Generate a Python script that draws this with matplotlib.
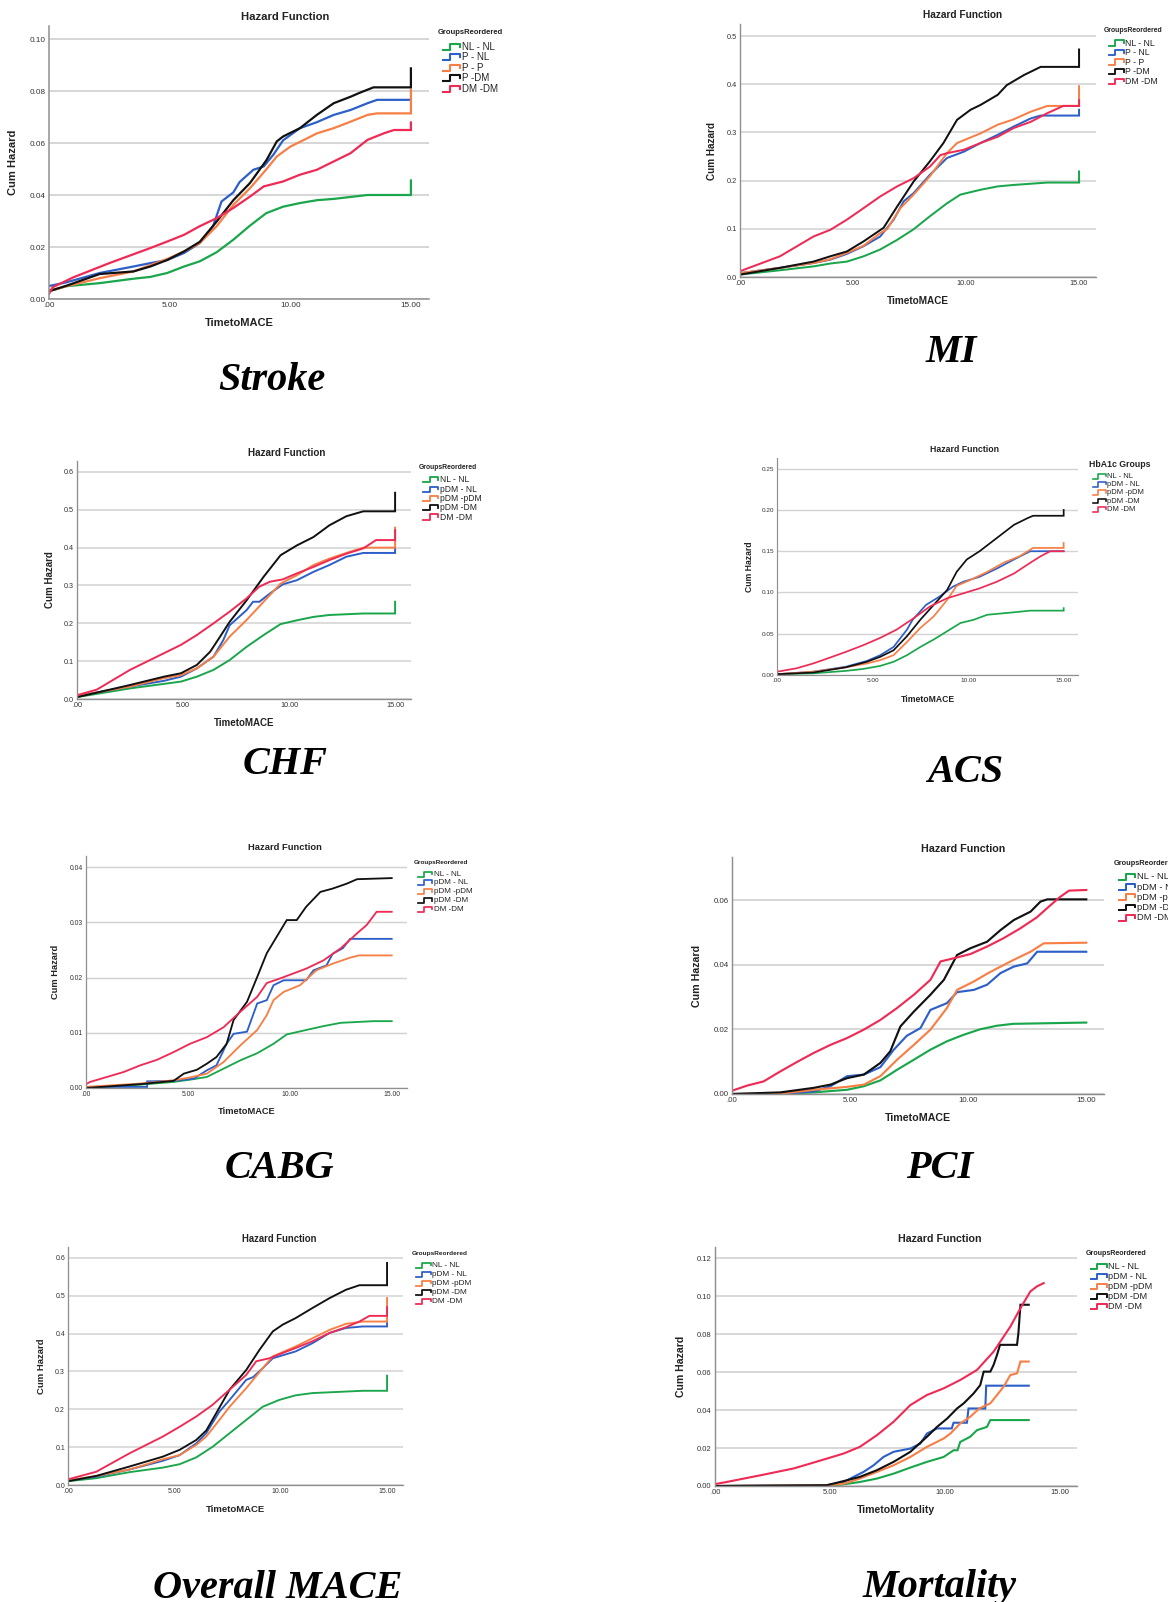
import matplotlib
matplotlib.use("Agg")
import matplotlib.pyplot as plt
from matplotlib.lines import Line2D

W, H = 1168, 1602

# legend labels / colours (SPSS order)
groups_p = ["NL - NL", "P - NL", "P - P", "P -DM", "DM -DM"]
groups_pdm = ["NL - NL", "pDM - NL", "pDM -pDM", "pDM -DM", "DM -DM"]
group_colors = ["#1aa64b", "#2d5fc8", "#f77f45", "#111111", "#ee2a55"]

x_ticks = [0, 5, 10, 15]
x_tick_labels = [".00", "5.00", "10.00", "15.00"]

# ---- Stroke ----
stroke_nl_t = [0, 0.7, 2.1, 3.5, 4.2, 4.9, 5.6, 6.25, 6.95, 7.64, 8.3, 9.0, 9.7, 10.4, 11.1, 11.8, 13.2, 15.0, 15.0]
stroke_nl_y = [0.003, 0.0049, 0.0061, 0.0078, 0.0085, 0.010, 0.0125, 0.0145, 0.018, 0.0228, 0.028, 0.033, 0.0355, 0.0369, 0.0380, 0.0385, 0.040, 0.040, 0.0456]
stroke_pnl_t = [0, 0.72, 2.1, 3.5, 4.2, 4.9, 5.6, 6.25, 6.8, 7.15, 7.64, 7.9, 8.47, 8.9, 9.3, 9.7, 10.4, 11.1, 11.8, 12.5, 13.2, 13.6, 15.0]
stroke_pnl_y = [0.005, 0.0064, 0.010, 0.0125, 0.0138, 0.015, 0.0177, 0.0215, 0.028, 0.0375, 0.041, 0.045, 0.0497, 0.051, 0.0555, 0.061, 0.0657, 0.068, 0.0708, 0.0727, 0.0753, 0.0766, 0.0766]
stroke_pp_t = [0, 0.72, 2.1, 3.5, 4.2, 4.9, 5.6, 6.25, 6.95, 7.64, 8.33, 9.02, 9.44, 10.0, 10.7, 11.1, 11.8, 12.5, 13.2, 13.6, 15.0, 15.0]
stroke_pp_y = [0.003, 0.0049, 0.008, 0.0106, 0.013, 0.0154, 0.0183, 0.0215, 0.028, 0.0362, 0.0426, 0.050, 0.0548, 0.0586, 0.0618, 0.0637, 0.0657, 0.0682, 0.0708, 0.0714, 0.0714, 0.0804]
stroke_pdm_t = [0, 0.72, 2.1, 3.5, 4.2, 4.9, 5.6, 6.25, 6.95, 7.64, 8.33, 9.02, 9.44, 9.7, 10.4, 11.1, 11.8, 12.5, 12.9, 13.45, 15.0, 15.0]
stroke_pdm_y = [0.003, 0.0051, 0.0096, 0.0106, 0.0125, 0.015, 0.0183, 0.022, 0.0298, 0.038, 0.0446, 0.0535, 0.0606, 0.0625, 0.0657, 0.0708, 0.0753, 0.0778, 0.0794, 0.0814, 0.0814, 0.0887]
stroke_dm_t = [0, 0.15, 1.0, 2.5, 4.2, 4.9, 5.6, 6.25, 6.95, 7.64, 8.33, 8.9, 9.7, 10.4, 11.1, 11.8, 12.5, 13.2, 13.9, 14.3, 15.0, 15.0]
stroke_dm_y = [0.002, 0.0045, 0.0083, 0.0138, 0.0196, 0.0221, 0.0247, 0.028, 0.0311, 0.035, 0.0394, 0.0433, 0.0452, 0.0478, 0.0497, 0.0529, 0.0561, 0.0612, 0.0638, 0.065, 0.065, 0.0679]

# ---- MI ----
mi_nl_t = [0, 1.77, 3.25, 4.0, 4.73, 5.47, 6.2, 6.95, 7.68, 8.4, 9.16, 9.75, 10.64, 11.4, 12.1, 13.6, 15.0, 15.0]
mi_nl_y = [0.005, 0.014, 0.022, 0.028, 0.032, 0.043, 0.057, 0.077, 0.099, 0.126, 0.153, 0.171, 0.181, 0.188, 0.191, 0.196, 0.196, 0.219]
mi_pnl_t = [0, 1.77, 3.25, 4.0, 4.73, 5.47, 6.2, 6.8, 7.24, 7.68, 8.4, 9.16, 9.9, 10.64, 11.4, 12.1, 12.86, 13.3, 15.0, 15.0]
mi_pnl_y = [0.008, 0.019, 0.029, 0.036, 0.048, 0.064, 0.084, 0.119, 0.157, 0.174, 0.212, 0.247, 0.26, 0.278, 0.295, 0.312, 0.329, 0.335, 0.335, 0.347]
mi_pp_t = [0, 1.77, 3.25, 4.0, 4.73, 5.47, 6.2, 6.5, 7.1, 7.68, 8.4, 9.16, 9.6, 10.64, 11.4, 12.1, 12.86, 13.6, 15.0, 15.0]
mi_pp_y = [0.008, 0.019, 0.029, 0.037, 0.05, 0.065, 0.091, 0.099, 0.143, 0.171, 0.209, 0.257, 0.278, 0.298, 0.316, 0.327, 0.343, 0.355, 0.355, 0.396]
mi_pdm_t = [0, 1.77, 3.25, 4.0, 4.73, 5.47, 6.35, 6.95, 7.68, 8.4, 9.0, 9.6, 10.2, 10.64, 11.4, 11.8, 12.56, 13.3, 15.0, 15.0]
mi_pdm_y = [0.005, 0.019, 0.032, 0.043, 0.053, 0.074, 0.102, 0.146, 0.198, 0.24, 0.278, 0.326, 0.347, 0.357, 0.378, 0.398, 0.419, 0.436, 0.436, 0.472]
mi_dm_t = [0, 1.77, 3.25, 4.0, 4.73, 5.47, 6.2, 6.95, 7.68, 8.4, 8.87, 9.16, 9.9, 10.64, 11.4, 12.1, 12.86, 13.6, 14.3, 15.0, 15.0]
mi_dm_y = [0.012, 0.043, 0.084, 0.098, 0.119, 0.143, 0.167, 0.188, 0.205, 0.229, 0.253, 0.257, 0.264, 0.278, 0.291, 0.309, 0.322, 0.34, 0.355, 0.355, 0.367]

# ---- CHF ----
chf_nl_t = [0, 2.5, 4.1, 4.9, 5.65, 6.44, 7.2, 8.0, 8.8, 9.6, 10.37, 11.15, 11.9, 13.5, 15.0, 15.0]
chf_nl_y = [0.005, 0.028, 0.04, 0.046, 0.059, 0.077, 0.103, 0.138, 0.169, 0.198, 0.208, 0.217, 0.222, 0.226, 0.226, 0.257]
chf_pnl_t = [0, 2.5, 4.1, 4.9, 5.65, 6.44, 6.9, 7.2, 8.0, 8.3, 8.6, 9.1, 9.7, 10.37, 11.15, 11.9, 12.7, 13.5, 15.0, 15.0]
chf_pnl_y = [0.008, 0.033, 0.048, 0.059, 0.081, 0.112, 0.156, 0.195, 0.235, 0.257, 0.257, 0.279, 0.303, 0.314, 0.336, 0.354, 0.376, 0.386, 0.386, 0.398]
chf_pp_t = [0, 2.5, 4.1, 4.9, 5.65, 6.44, 7.2, 8.0, 8.8, 9.6, 10.37, 11.15, 11.9, 12.7, 13.5, 15.0, 15.0]
chf_pp_y = [0.008, 0.033, 0.055, 0.063, 0.081, 0.112, 0.165, 0.209, 0.257, 0.305, 0.327, 0.354, 0.371, 0.386, 0.40, 0.40, 0.453]
chf_pdm_t = [0, 2.5, 4.1, 4.9, 5.65, 6.28, 6.75, 7.2, 8.0, 8.8, 9.6, 10.37, 11.15, 11.9, 12.7, 13.5, 15.0, 15.0]
chf_pdm_y = [0.005, 0.037, 0.059, 0.068, 0.09, 0.125, 0.165, 0.204, 0.261, 0.323, 0.38, 0.406, 0.428, 0.459, 0.483, 0.496, 0.496, 0.545]
chf_dm_t = [0, 0.94, 2.5, 4.1, 4.9, 5.65, 6.44, 7.2, 8.0, 8.6, 9.1, 9.7, 10.37, 11.15, 11.9, 12.7, 13.5, 14.1, 15.0, 15.0]
chf_dm_y = [0.01, 0.025, 0.077, 0.121, 0.143, 0.169, 0.2, 0.231, 0.266, 0.297, 0.31, 0.316, 0.332, 0.349, 0.367, 0.384, 0.398, 0.42, 0.42, 0.446]

# ---- ACS ----
acs_nl_t = [0, 1.9, 3.6, 4.5, 5.4, 6.1, 6.8, 7.5, 8.2, 8.9, 9.6, 10.3, 11.0, 12.4, 13.25, 15.0, 15.0]
acs_nl_y = [0.001, 0.002, 0.005, 0.0073, 0.011, 0.016, 0.024, 0.034, 0.043, 0.053, 0.063, 0.067, 0.073, 0.076, 0.078, 0.078, 0.081]
acs_pnl_t = [0, 1.9, 3.6, 4.7, 5.4, 6.1, 6.8, 7.1, 7.8, 8.5, 9.2, 9.75, 10.6, 11.5, 12.4, 13.25, 15.0]
acs_pnl_y = [0.001, 0.004, 0.010, 0.017, 0.024, 0.034, 0.055, 0.067, 0.085, 0.095, 0.107, 0.113, 0.119, 0.129, 0.14, 0.15, 0.15]
acs_pp_t = [0, 1.9, 3.6, 4.7, 5.4, 6.1, 6.8, 7.5, 8.2, 8.9, 9.4, 10.1, 11.0, 11.85, 12.7, 13.4, 15.0, 15.0]
acs_pp_y = [0.001, 0.004, 0.0093, 0.014, 0.018, 0.024, 0.040, 0.057, 0.071, 0.091, 0.108, 0.115, 0.125, 0.136, 0.144, 0.154, 0.154, 0.16]
acs_pdm_t = [0, 1.9, 3.6, 4.7, 5.4, 6.1, 6.8, 7.5, 8.2, 8.9, 9.4, 9.93, 10.6, 11.5, 12.4, 13.1, 13.4, 15.0, 15.0]
acs_pdm_y = [0.001, 0.003, 0.0093, 0.016, 0.022, 0.030, 0.047, 0.067, 0.085, 0.103, 0.125, 0.14, 0.15, 0.166, 0.182, 0.19, 0.193, 0.193, 0.2]
acs_dm_t = [0, 1.0, 1.9, 2.76, 3.6, 4.5, 5.4, 6.26, 7.1, 8.0, 8.9, 9.75, 10.6, 11.5, 12.4, 13.25, 13.8, 14.3, 15.0]
acs_dm_y = [0.004, 0.008, 0.014, 0.021, 0.028, 0.036, 0.045, 0.055, 0.068, 0.083, 0.093, 0.099, 0.105, 0.113, 0.123, 0.136, 0.144, 0.15, 0.15]

# ---- CABG ----
cabg_nl_t = [0, 2.66, 4.3, 5.1, 5.93, 6.75, 7.57, 8.4, 9.2, 9.85, 10.8, 11.65, 12.5, 14.1, 15.0]
cabg_nl_y = [0.0, 0.0006, 0.0011, 0.0015, 0.002, 0.0035, 0.005, 0.0063, 0.008, 0.0097, 0.0105, 0.0112, 0.0118, 0.0121, 0.0121]
cabg_pnl_t = [0, 3.0, 3.0, 4.3, 5.3, 5.93, 6.4, 6.9, 7.24, 7.9, 8.4, 8.87, 9.2, 9.7, 10.8, 11.16, 11.8, 12.1, 12.6, 12.96, 15.0]
cabg_pnl_y = [0.0002, 0.0002, 0.0012, 0.0013, 0.0017, 0.0032, 0.0041, 0.008, 0.0098, 0.0102, 0.0153, 0.0159, 0.0186, 0.0195, 0.0195, 0.0213, 0.0222, 0.0243, 0.0253, 0.027, 0.027]
cabg_pp_t = [0, 2.66, 4.3, 5.1, 5.93, 6.75, 7.57, 8.4, 8.87, 9.2, 9.7, 10.5, 11.3, 12.1, 12.96, 13.4, 15.0]
cabg_pp_y = [0.0002, 0.0008, 0.0014, 0.0019, 0.0026, 0.0047, 0.0077, 0.0105, 0.0132, 0.0159, 0.0174, 0.0186, 0.0213, 0.0225, 0.0236, 0.024, 0.024]
cabg_pdm_t = [0, 2.66, 4.3, 4.8, 5.44, 5.93, 6.4, 6.9, 7.24, 7.9, 8.4, 8.87, 9.36, 9.85, 10.34, 10.8, 11.5, 12.1, 12.8, 13.3, 15.0]
cabg_pdm_y = [0.0, 0.0007, 0.0013, 0.0026, 0.0033, 0.0044, 0.0056, 0.008, 0.0123, 0.0156, 0.0201, 0.0244, 0.0274, 0.0304, 0.0304, 0.0328, 0.0355, 0.0361, 0.037, 0.0378, 0.038]
cabg_dm_t = [0, 0.2, 1.03, 1.85, 2.66, 3.48, 4.3, 5.1, 5.93, 6.75, 7.57, 8.4, 8.87, 9.5, 10.8, 11.65, 12.5, 13.3, 13.77, 14.26, 15.0]
cabg_dm_y = [0.0007, 0.0011, 0.002, 0.0029, 0.0041, 0.0051, 0.0065, 0.008, 0.0092, 0.011, 0.0138, 0.0165, 0.019, 0.0198, 0.0216, 0.0231, 0.0253, 0.028, 0.0295, 0.0319, 0.0319]

# ---- PCI ----
pci_nl_t = [0, 2.05, 3.46, 4.87, 5.58, 6.28, 6.99, 7.7, 8.4, 9.1, 9.8, 10.5, 11.2, 11.9, 15.0]
pci_nl_y = [0.0, 0.0, 0.0005, 0.0013, 0.0024, 0.0042, 0.0075, 0.0106, 0.0137, 0.0163, 0.0183, 0.020, 0.0211, 0.0217, 0.0221]
pci_pnl_t = [0, 2.05, 3.46, 4.17, 4.87, 5.58, 6.28, 6.85, 7.4, 7.98, 8.4, 9.1, 9.53, 10.24, 10.8, 11.37, 11.93, 12.5, 12.92, 15.0]
pci_pnl_y = [0.0, 0.0, 0.0008, 0.0024, 0.0055, 0.006, 0.0083, 0.0137, 0.018, 0.0204, 0.026, 0.0281, 0.0315, 0.0322, 0.0338, 0.0374, 0.0394, 0.0404, 0.044, 0.044]
pci_pp_t = [0, 2.05, 3.46, 4.87, 5.58, 6.28, 6.99, 7.7, 8.4, 9.1, 9.53, 10.24, 10.8, 11.37, 11.93, 12.64, 13.2, 15.0]
pci_pp_y = [0.0, 0.0001, 0.0013, 0.0022, 0.0029, 0.0055, 0.0106, 0.0152, 0.0199, 0.0266, 0.0322, 0.0348, 0.0372, 0.0394, 0.0415, 0.044, 0.0466, 0.0468]
pci_pdm_t = [0, 2.05, 3.46, 4.17, 4.87, 5.58, 6.28, 6.7, 7.13, 7.7, 8.4, 8.97, 9.53, 10.1, 10.8, 11.37, 11.93, 12.64, 13.06, 13.35, 15.0]
pci_pdm_y = [0.0, 0.0005, 0.0019, 0.0029, 0.0049, 0.006, 0.0096, 0.0132, 0.0209, 0.0255, 0.0307, 0.0353, 0.043, 0.0451, 0.0471, 0.0507, 0.0538, 0.0564, 0.0595, 0.0602, 0.0602]
pci_dm_t = [0, 0.64, 1.34, 2.05, 2.75, 3.46, 4.17, 4.87, 5.58, 6.28, 6.99, 7.7, 8.4, 8.83, 9.4, 10.1, 10.8, 11.5, 12.2, 12.9, 13.5, 13.9, 14.27, 15.0]
pci_dm_y = [0.001, 0.0026, 0.0039, 0.007, 0.0099, 0.0127, 0.0152, 0.0173, 0.0199, 0.0229, 0.0266, 0.0307, 0.0353, 0.041, 0.042, 0.0433, 0.0456, 0.0482, 0.0512, 0.0546, 0.0585, 0.061, 0.0629, 0.0631]

# ---- Overall MACE ----
mace_nl_t = [0, 1.33, 2.9, 4.46, 5.25, 6.03, 6.8, 7.6, 8.38, 9.16, 9.94, 10.7, 11.5, 12.3, 13.86, 15.0, 15.0]
mace_nl_y = [0.01, 0.018, 0.034, 0.046, 0.055, 0.073, 0.101, 0.137, 0.172, 0.207, 0.225, 0.237, 0.243, 0.245, 0.249, 0.249, 0.289]
mace_pnl_t = [0, 1.33, 2.9, 4.46, 5.25, 6.03, 6.5, 7.12, 7.6, 8.38, 8.7, 9.16, 9.63, 10.7, 11.5, 12.3, 13.07, 13.86, 15.0, 15.0]
mace_pnl_y = [0.012, 0.022, 0.041, 0.064, 0.079, 0.11, 0.137, 0.194, 0.225, 0.278, 0.285, 0.309, 0.335, 0.353, 0.375, 0.402, 0.415, 0.419, 0.419, 0.428]
mace_pp_t = [0, 1.33, 2.9, 4.46, 5.25, 6.03, 6.5, 7.12, 7.6, 8.38, 9.16, 9.63, 10.7, 11.5, 12.3, 13.07, 13.86, 15.0, 15.0]
mace_pp_y = [0.012, 0.024, 0.041, 0.068, 0.079, 0.106, 0.128, 0.172, 0.207, 0.256, 0.309, 0.34, 0.366, 0.388, 0.41, 0.426, 0.432, 0.432, 0.494]
mace_pdm_t = [0, 1.33, 2.9, 4.46, 5.25, 6.03, 6.5, 6.97, 7.6, 8.38, 9.0, 9.63, 10.1, 10.7, 11.5, 12.3, 13.07, 13.7, 15.0, 15.0]
mace_pdm_y = [0.01, 0.024, 0.049, 0.075, 0.093, 0.119, 0.144, 0.19, 0.252, 0.304, 0.357, 0.406, 0.424, 0.441, 0.468, 0.494, 0.516, 0.528, 0.528, 0.587]
mace_dm_t = [0, 1.33, 2.9, 4.46, 5.25, 6.03, 6.8, 7.6, 8.38, 8.85, 9.47, 10.1, 10.7, 11.5, 12.3, 13.07, 13.7, 14.17, 15.0, 15.0]
mace_dm_y = [0.015, 0.035, 0.084, 0.128, 0.154, 0.181, 0.212, 0.252, 0.291, 0.327, 0.335, 0.349, 0.362, 0.38, 0.402, 0.417, 0.432, 0.447, 0.447, 0.47]

# ---- Mortality ----
mort_nl_t = [0, 4.86, 5.6, 6.3, 7.04, 7.77, 8.5, 9.22, 9.95, 10.38, 10.55, 10.67, 11.1, 11.4, 11.83, 11.98, 13.65]
mort_nl_y = [0, 0, 0.0009, 0.0021, 0.0039, 0.0065, 0.0097, 0.0127, 0.0153, 0.0188, 0.0188, 0.0232, 0.0259, 0.0294, 0.0311, 0.0347, 0.0347]
mort_pnl_t = [0, 4.86, 5.6, 6.03, 6.46, 6.9, 7.33, 7.77, 8.5, 8.93, 9.22, 9.66, 10.3, 10.38, 10.96, 11.03, 11.76, 11.8, 13.65]
mort_pnl_y = [0, 0.0004, 0.0021, 0.0048, 0.0074, 0.0109, 0.0153, 0.018, 0.0197, 0.0223, 0.0276, 0.0303, 0.0303, 0.0333, 0.0333, 0.0408, 0.0408, 0.0528, 0.0528]
mort_pp_t = [0, 4.86, 5.6, 6.3, 7.04, 7.77, 8.5, 9.22, 9.95, 10.24, 10.67, 11.1, 11.5, 11.98, 12.27, 12.56, 12.85, 13.14, 13.29, 13.65]
mort_pp_y = [0, 0.0004, 0.0012, 0.0039, 0.0074, 0.0109, 0.0153, 0.0206, 0.025, 0.0276, 0.0329, 0.0364, 0.0408, 0.0435, 0.0479, 0.0523, 0.0584, 0.0593, 0.0655, 0.0655]
mort_pdm_t = [0, 4.86, 5.6, 6.3, 7.04, 7.77, 8.5, 9.22, 9.66, 10.1, 10.53, 10.82, 11.25, 11.54, 11.69, 11.98, 12.12, 12.27, 12.4, 13.14, 13.2, 13.29, 13.65]
mort_pdm_y = [0, 0.0004, 0.0026, 0.0048, 0.0083, 0.0127, 0.018, 0.0259, 0.0311, 0.0355, 0.0408, 0.0435, 0.0487, 0.0531, 0.0602, 0.0602, 0.0637, 0.069, 0.0743, 0.0743, 0.0804, 0.0954, 0.0954]
mort_dm_t = [0, 0.5, 1.96, 3.41, 4.14, 4.86, 5.6, 6.3, 7.04, 7.77, 8.5, 9.22, 9.95, 10.67, 11.4, 12.12, 12.85, 13.29, 13.72, 14.0, 14.3]
mort_dm_y = [0.001, 0.0021, 0.0056, 0.0092, 0.0118, 0.0144, 0.0171, 0.0206, 0.0267, 0.0338, 0.0426, 0.0479, 0.0514, 0.0558, 0.0611, 0.0707, 0.0839, 0.0936, 0.1024, 0.105, 0.1068]

panels = [
    dict(name="Stroke", xlab="TimetoMACE", legtitle="GroupsReordered", labels=groups_p,
         ytop=0.105, yticks=[0, 0.02, 0.04, 0.06, 0.08, 0.10], yfmt="%.2f",
         curves=[(stroke_nl_t, stroke_nl_y), (stroke_pnl_t, stroke_pnl_y), (stroke_pp_t, stroke_pp_y),
                 (stroke_pdm_t, stroke_pdm_y), (stroke_dm_t, stroke_dm_y)]),
    dict(name="MI", xlab="TimetoMACE", legtitle="GroupsReordered", labels=groups_p,
         ytop=0.525, yticks=[0, 0.1, 0.2, 0.3, 0.4, 0.5], yfmt="%.1f",
         curves=[(mi_nl_t, mi_nl_y), (mi_pnl_t, mi_pnl_y), (mi_pp_t, mi_pp_y),
                 (mi_pdm_t, mi_pdm_y), (mi_dm_t, mi_dm_y)]),
    dict(name="CHF", xlab="TimetoMACE", legtitle="GroupsReordered", labels=groups_pdm,
         ytop=0.629, yticks=[0, 0.1, 0.2, 0.3, 0.4, 0.5, 0.6], yfmt="%.1f",
         curves=[(chf_nl_t, chf_nl_y), (chf_pnl_t, chf_pnl_y), (chf_pp_t, chf_pp_y),
                 (chf_pdm_t, chf_pdm_y), (chf_dm_t, chf_dm_y)]),
    dict(name="ACS", xlab="TimetoMACE", legtitle="HbA1c Groups", labels=groups_pdm,
         ytop=0.263, yticks=[0, 0.05, 0.10, 0.15, 0.20, 0.25], yfmt="%.2f",
         curves=[(acs_nl_t, acs_nl_y), (acs_pnl_t, acs_pnl_y), (acs_pp_t, acs_pp_y),
                 (acs_pdm_t, acs_pdm_y), (acs_dm_t, acs_dm_y)]),
    dict(name="CABG", xlab="TimetoMACE", legtitle="GroupsReordered", labels=groups_pdm,
         ytop=0.042, yticks=[0, 0.01, 0.02, 0.03, 0.04], yfmt="%.2f",
         curves=[(cabg_nl_t, cabg_nl_y), (cabg_pnl_t, cabg_pnl_y), (cabg_pp_t, cabg_pp_y),
                 (cabg_pdm_t, cabg_pdm_y), (cabg_dm_t, cabg_dm_y)]),
    dict(name="PCI", xlab="TimetoMACE", legtitle="GroupsReordered", labels=groups_pdm,
         ytop=0.0733, yticks=[0, 0.02, 0.04, 0.06], yfmt="%.2f",
         curves=[(pci_nl_t, pci_nl_y), (pci_pnl_t, pci_pnl_y), (pci_pp_t, pci_pp_y),
                 (pci_pdm_t, pci_pdm_y), (pci_dm_t, pci_dm_y)]),
    dict(name="Overall MACE", xlab="TimetoMACE", legtitle="GroupsReordered", labels=groups_pdm,
         ytop=0.629, yticks=[0, 0.1, 0.2, 0.3, 0.4, 0.5, 0.6], yfmt="%.1f",
         curves=[(mace_nl_t, mace_nl_y), (mace_pnl_t, mace_pnl_y), (mace_pp_t, mace_pp_y),
                 (mace_pdm_t, mace_pdm_y), (mace_dm_t, mace_dm_y)]),
    dict(name="Mortality", xlab="TimetoMortality", legtitle="GroupsReordered", labels=groups_pdm,
         ytop=0.1258, yticks=[0, 0.02, 0.04, 0.06, 0.08, 0.10, 0.12], yfmt="%.2f",
         curves=[(mort_nl_t, mort_nl_y), (mort_pnl_t, mort_pnl_y), (mort_pp_t, mort_pp_y),
                 (mort_pdm_t, mort_pdm_y), (mort_dm_t, mort_dm_y)]),
]

# pixel layout: axes box (l, t, r, b), title x, ylabel x, legend x, subtitle (x, y), scale
layout = [
    ((49, 26, 429, 299), 285, 13, 438, (272, 380), 1.00),
    ((740, 24, 1096, 277), 963, 712, 1104, (951, 353), 0.90),
    ((77, 461, 411, 699), 287, 50, 419, (285, 764), 0.88),
    ((777, 458, 1078, 675), 964, 749, 1089, (965, 772), 0.78),
    ((86, 856, 407, 1088), 285, 55, 414, (279, 1168), 0.83),
    ((732, 857, 1104, 1094), 963, 697, 1114, (940, 1168), 0.96),
    ((68, 1247, 403, 1485), 279, 42, 412, (278, 1588), 0.85),
    ((715, 1247, 1077, 1486), 940, 681, 1086, (940, 1588), 0.94),
]

SANS = "Liberation Sans"
SERIF = "Liberation Serif"


def fx(x):
    return x / W


def fy(y):
    return 1 - y / H


def draw_legend(fig, x, y, title, labels, s, big_title):
    # SPSS style legend: bold title, small step icon, label
    tsize = 8.1 * s if big_title else 5.5 * s
    fig.text(fx(x), fy(y), title, fontsize=tsize, fontweight="bold", family=SANS,
             color="#222222", ha="left", va="center")
    gap = 15 * s if big_title else 14 * s
    step = 10.6 * s
    for i, (lab, col) in enumerate(zip(labels, group_colors)):
        cy = y + gap + i * step
        x0, x1, x2 = x + 5 * s, x + 12 * s, x + 22 * s
        xs = [x0, x1, x1, x2, x2]
        ys = [cy + 3 * s, cy + 3 * s, cy - 3 * s, cy - 3 * s, cy]
        fig.add_artist(Line2D([fx(v) for v in xs], [fy(v) for v in ys], color=col,
                              lw=1.5 * s, transform=fig.transFigure))
        fig.text(fx(x + 23.5 * s), fy(cy), lab, fontsize=7.0 * s, family=SANS,
                 color="#222222", ha="left", va="center")


fig = plt.figure(figsize=(W / 100, H / 100), dpi=100)
fig.patch.set_facecolor("white")

for p, lay in zip(panels, layout):
    (l, t, r, b), title_x, ylab_x, leg_x, (sx, sy), s = lay
    ax = fig.add_axes([fx(l), fy(b), (r - l) / W, (b - t) / H])
    for (tt, yy), col in zip(p["curves"], group_colors):
        ax.plot(tt, yy, color=col, lw=1.6 * s, solid_joinstyle="miter")
    ax.set_xlim(0, 15.75)
    ax.set_ylim(0, p["ytop"])
    ax.set_xticks(x_ticks, labels=x_tick_labels)
    ax.set_yticks(p["yticks"], labels=[p["yfmt"] % v for v in p["yticks"]])
    ax.tick_params(length=0, labelsize=5.9 * s, labelcolor="#333333", pad=2.5 * s)
    for lab in ax.get_xticklabels() + ax.get_yticklabels():
        lab.set_family(SANS)
    ax.yaxis.grid(True, color="#d3d3d3", lw=1.3 * s)
    ax.set_axisbelow(True)
    for side in ["top", "right"]:
        ax.spines[side].set_visible(False)
    for side in ["left", "bottom"]:
        ax.spines[side].set_color("#8f8f8f")
        ax.spines[side].set_linewidth(1.1 * s)

    fig.text(fx(title_x), fy(t - 8.5), "Hazard Function", fontsize=8.1 * s, fontweight="bold",
             family=SANS, color="#222222", ha="center", va="center")
    fig.text(fx((l + r) / 2), fy(b + 24), p["xlab"], fontsize=8.0 * s, fontweight="bold",
             family=SANS, color="#222222", ha="center", va="center")
    fig.text(fx(ylab_x), fy((t + b) / 2), "Cum Hazard", fontsize=8.0 * s, fontweight="bold",
             family=SANS, color="#222222", ha="center", va="center", rotation=90)
    draw_legend(fig, leg_x, t + 6.5, p["legtitle"], p["labels"], s, p["legtitle"] == "HbA1c Groups")
    fig.text(fx(sx), fy(sy), p["name"], fontsize=29, fontweight="bold", fontstyle="italic",
             family=SERIF, color="black", ha="center", va="center")

fig.savefig("out.png", dpi=100)
